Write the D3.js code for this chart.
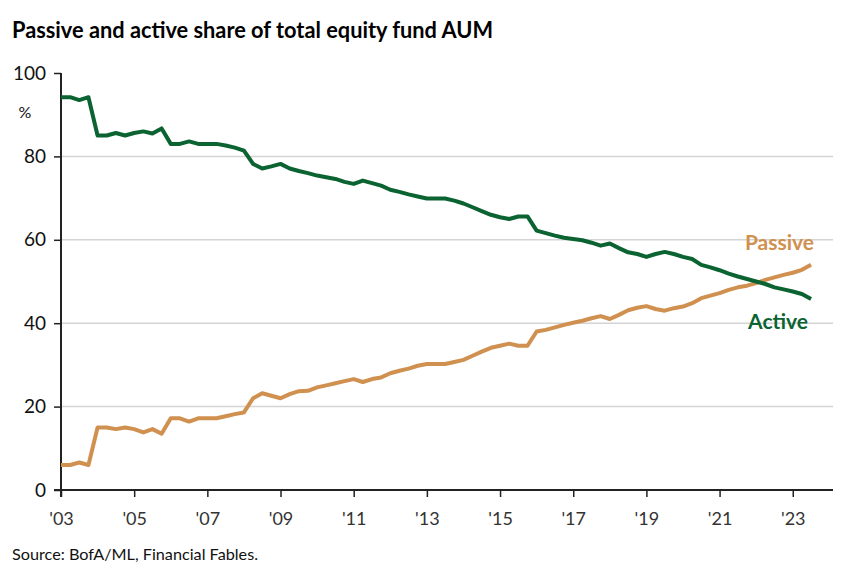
<!DOCTYPE html>
<html>
<head>
<meta charset="utf-8">
<script src="https://cdn.jsdelivr.net/npm/d3@7"></script>
<style>
  body { margin: 0; background: #fff; }
  text { font-family: Lato, "Open Sans", sans-serif; }
</style>
</head>
<body>
<div id="chart"></div>
<script>
// quarterly readings, first point = Q1 2003
var startYear = 2003;
var active = [94.2, 94.2, 93.5, 94.2, 85.0, 85.0, 85.6, 85.0, 85.6, 86.0, 85.5, 86.7,
  83.0, 83.0, 83.6, 83.0, 83.0, 83.0, 82.6, 82.1, 81.4, 78.2, 77.1, 77.6,
  78.2, 77.1, 76.5, 76.0, 75.4, 75.0, 74.6, 73.9, 73.4, 74.2, 73.6, 73.0,
  72.0, 71.5, 70.9, 70.4, 69.9, 69.9, 69.9, 69.4, 68.7, 67.8, 66.9, 66.0,
  65.4, 65.0, 65.6, 65.6, 62.2, 61.6, 61.0, 60.5, 60.2, 59.9, 59.3, 58.6,
  59.1, 58.0, 57.0, 56.6, 55.9, 56.6, 57.1, 56.6, 55.9, 55.4, 54.0, 53.4,
  52.7, 51.9, 51.2, 50.6, 50.0, 49.4, 48.6, 48.1, 47.6, 47.0, 45.8];
var passive = [6.0, 6.0, 6.6, 6.0, 15.0, 15.0, 14.6, 15.0, 14.6, 13.8, 14.6, 13.5,
  17.2, 17.2, 16.4, 17.2, 17.2, 17.2, 17.7, 18.2, 18.6, 22.0, 23.2, 22.6,
  22.0, 23.0, 23.7, 23.8, 24.6, 25.1, 25.6, 26.1, 26.6, 25.9, 26.6, 27.0,
  28.0, 28.6, 29.1, 29.8, 30.2, 30.2, 30.2, 30.7, 31.2, 32.2, 33.2, 34.1,
  34.6, 35.1, 34.6, 34.6, 38.0, 38.4, 39.0, 39.6, 40.1, 40.6, 41.2, 41.7,
  41.0, 42.0, 43.1, 43.7, 44.1, 43.4, 43.0, 43.6, 44.0, 44.8, 46.0, 46.6,
  47.2, 48.0, 48.6, 49.0, 49.6, 50.4, 51.0, 51.6, 52.1, 52.8, 54.0];
var xTicks = [2003, 2005, 2007, 2009, 2011, 2013, 2015, 2017, 2019, 2021, 2023];
var yTicks = [0, 20, 40, 60, 80, 100];

var margin = {top: 73, right: 24, bottom: 84, left: 61},
    width = 857 - margin.left - margin.right,
    height = 574 - margin.top - margin.bottom;

var svg = d3.select("#chart")
  .append("svg")
    .attr("width", 857)
    .attr("height", 574);

svg.append("text")
  .attr("x", 12)
  .attr("y", 38)
  .attr("font-size", "23px")
  .attr("font-weight", "bold")
  .attr("fill", "#000")
  .attr("textLength", 481)
  .attr("lengthAdjust", "spacingAndGlyphs")
  .text("Passive and active share of total equity fund AUM");

svg.append("text")
  .attr("x", 12)
  .attr("y", 560)
  .attr("font-size", "16px")
  .attr("fill", "#111")
  .attr("textLength", 246)
  .attr("lengthAdjust", "spacingAndGlyphs")
  .text("Source: BofA/ML, Financial Fables.");

var g = svg.append("g")
  .attr("transform", "translate(" + margin.left + "," + margin.top + ")");

var x = d3.scaleLinear()
  .domain([startYear, 2024.1])
  .range([0, width]);

var y = d3.scaleLinear()
  .domain([0, 100])
  .range([height, 0]);

// gridlines
g.append("g")
  .selectAll("line")
  .data(yTicks.filter(function(d) { return d > 0 && d < 100; }))
  .enter().append("line")
    .attr("x1", 0)
    .attr("x2", width)
    .attr("y1", function(d) { return y(d); })
    .attr("y2", function(d) { return y(d); })
    .style("stroke", "#d4d4d4")
    .style("stroke-width", 1.5);

var yAxis = g.append("g")
  .call(d3.axisLeft(y).tickValues(yTicks).tickSize(7).tickPadding(8));
yAxis.select(".domain").remove();
yAxis.selectAll(".tick line").style("stroke", "#222").style("stroke-width", 1.5);
yAxis.selectAll("text").attr("font-size", "19px").attr("fill", "#111")
  .style("font-family", "Lato, sans-serif");

var xAxis = g.append("g")
  .attr("transform", "translate(0," + height + ")")
  .call(d3.axisBottom(x).tickValues(xTicks).tickSize(7).tickPadding(15)
    .tickFormat(function(d) { return "'" + String(d % 100).padStart(2, "0"); }));
xAxis.select(".domain").remove();
xAxis.selectAll(".tick line").style("stroke", "#222").style("stroke-width", 1.5);
xAxis.selectAll("text").attr("font-size", "18px").attr("fill", "#333")
  .style("font-family", "Lato, sans-serif");

// axis lines
g.append("line")
  .attr("x1", 0).attr("x2", 0)
  .attr("y1", 0).attr("y2", height + 7)
  .style("stroke", "#222").style("stroke-width", 2);
g.append("line")
  .attr("x1", -7).attr("x2", width)
  .attr("y1", height).attr("y2", height)
  .style("stroke", "#222").style("stroke-width", 2);

svg.append("text")
  .attr("x", 25)
  .attr("y", 118)
  .attr("text-anchor", "middle")
  .attr("font-size", "16px")
  .attr("fill", "#111")
  .text("%");

var line = d3.line()
  .x(function(d, i) { return x(startYear + i / 4); })
  .y(function(d) { return y(d); });

g.append("path")
  .datum(passive)
  .attr("fill", "none")
  .attr("stroke", "#d0904f")
  .attr("stroke-width", 4)
  .attr("stroke-linejoin", "round")
  .attr("d", line);

g.append("path")
  .datum(active)
  .attr("fill", "none")
  .attr("stroke", "#0b6331")
  .attr("stroke-width", 4)
  .attr("stroke-linejoin", "round")
  .attr("d", line);

svg.append("text")
  .attr("x", 814)
  .attr("y", 250)
  .attr("text-anchor", "end")
  .attr("font-size", "21px")
  .attr("font-weight", "bold")
  .attr("fill", "#d0904f")
  .text("Passive");

svg.append("text")
  .attr("x", 808)
  .attr("y", 329)
  .attr("text-anchor", "end")
  .attr("font-size", "21px")
  .attr("font-weight", "bold")
  .attr("fill", "#0b6331")
  .text("Active");
</script>
</body>
</html>
